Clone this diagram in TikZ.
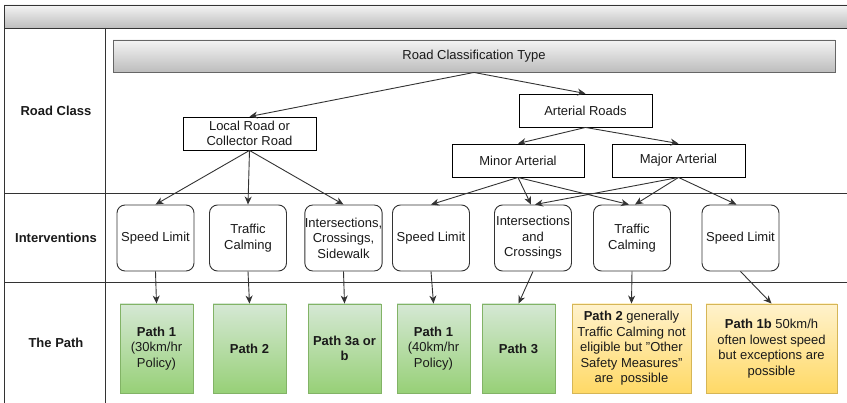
\documentclass[tikz,border=0pt]{standalone}
\usepackage{fontspec}
\setmainfont{Liberation Sans}
\usetikzlibrary{arrows.meta}
\definecolor{lineC}{HTML}{333333}
\definecolor{greenT}{HTML}{D5E8D4}
\definecolor{greenB}{HTML}{97D077}
\definecolor{greenD}{HTML}{82B366}
\definecolor{yelT}{HTML}{FFF2CC}
\definecolor{yelB}{HTML}{FFD966}
\definecolor{yelD}{HTML}{D6B656}
\definecolor{grayT}{HTML}{F4F4F4}
\definecolor{grayB}{HTML}{BDBDBD}
\definecolor{txt}{HTML}{1A1A1A}
\tikzset{
  every node/.style={font=\fontsize{13}{15.5}\selectfont, text=txt, align=center, inner sep=0pt},
  classbox/.style={draw=black, fill=white, line width=0.9pt, minimum height=33pt},
  intbox/.style={draw=lineC, fill=white, rounded corners=8pt, line width=0.9pt, minimum width=77pt, minimum height=66pt},
  greenbox/.style={draw=greenD, top color=greenT, bottom color=greenB, line width=0.9pt, minimum height=89pt},
  yelbox/.style={draw=yelD, top color=yelT, bottom color=yelB, line width=0.9pt, minimum height=89pt},
  arr/.style={draw=lineC, line width=0.9pt, -{Stealth[length=8pt,width=7pt,inset=2.5pt]}},
  frame/.style={draw=lineC, line width=0.9pt},
  rowlabel/.style={font=\fontsize{13}{15.5}\selectfont\bfseries}
}
\begin{document}
\begin{tikzpicture}[x=1pt,y=-1pt]
\useasboundingbox (0,0) rectangle (847,403);
\clip (0,0) rectangle (847,403);
% frame
\path[frame, top color=grayT, bottom color=grayB] (4,5) rectangle (860,28);
\draw[frame] (4,28) -- (4,410);
\draw[frame] (105,28) -- (105,410);
\draw[frame] (4,193) -- (860,193);
\draw[frame] (4,282) -- (860,282);
% row labels
\node[rowlabel] (lrc) at (56,111) {Road Class};
\node[rowlabel] (lint) at (56,238) {Interventions};
\node[rowlabel] (lpath) at (56,343) {The Path};
% classification
\node[draw=gray!80!black, line width=0.9pt, top color=grayT, bottom color=grayB, minimum width=722pt, minimum height=32pt] (rct) at (474,56) {Road Classification Type};
\node[classbox, minimum width=133pt] (art) at (585.5,110.5) {Arterial Roads};
\node[classbox, minimum width=133pt] (loc) at (249.5,133.5) {Local Road or\\Collector Road};
\node[classbox, minimum width=132pt] (minor) at (518,160.5) {Minor Arterial};
\node[classbox, minimum width=133pt] (major) at (678.5,160.5) {Major Arterial};
% interventions
\node[intbox] (sl1) at (155.5,238) {Speed Limit};
\node[intbox] (tc1) at (248,238) {Traffic\\Calming};
\node[intbox] (ics) at (343.5,238) {Intersections,\\Crossings,\\Sidewalk};
\node[intbox] (sl2) at (431,238) {Speed Limit};
\node[intbox] (iac) at (533,238) {Intersections\\and\\Crossings};
\node[intbox] (tc2) at (632,238) {Traffic\\Calming};
\node[intbox] (sl3) at (740.5,238) {Speed Limit};
% paths
\node[greenbox, minimum width=73pt] (p1) at (156.5,348.5) {\textbf{Path 1}\\(30km/hr\\Policy)};
\node[greenbox, minimum width=73pt] (p2) at (249.5,348.5) {\textbf{Path 2}};
\node[greenbox, minimum width=73pt] (p3a) at (344.5,348.5) {\textbf{Path 3a or}\\\textbf{b}};
\node[greenbox, minimum width=73pt] (p140) at (433.5,348.5) {\textbf{Path 1}\\(40km/hr\\Policy)};
\node[greenbox, minimum width=73pt] (p3) at (518.5,348.5) {\textbf{Path 3}};
\node[yelbox, minimum width=119pt] (p2y) at (631.5,348.5) {\textbf{Path 2} generally\\Traffic Calming not\\eligible but "Other\\Safety Measures"\\are\ \ possible};
\node[yelbox, minimum width=131pt] (p1b) at (771.5,348.5) {\textbf{Path 1b} 50km/h\\often lowest speed\\but exceptions are\\possible};
% connectors
\draw[arr] (rct.south) -- (loc.north);
\draw[arr] (rct.south) -- (art.north);
\draw[arr] (art.south) -- (minor.north);
\draw[arr] (art.south) -- (major.north);
\draw[arr] (loc.south) -- (sl1.north);
\draw[arr] (loc.south) -- (tc1.north);
\draw[arr] (loc.south) -- (ics.north);
\draw[arr] (minor.south) -- (sl2.north);
\draw[arr] (minor.south) -- ([xshift=-2pt]iac.north);
\draw[arr] (minor.south) -- ([xshift=-3pt]tc2.north);
\draw[arr] (major.south) -- ([xshift=2pt]iac.north);
\draw[arr] (major.south) -- ([xshift=3pt]tc2.north);
\draw[arr] (major.south) -- ([xshift=-4pt]sl3.north);
\draw[arr] (sl1.south) -- (p1.north);
\draw[arr] (tc1.south) -- (p2.north);
\draw[arr] (ics.south) -- (p3a.north);
\draw[arr] (sl2.south) -- (p140.north);
\draw[arr] (iac.south) -- (p3.north);
\draw[arr] (tc2.south) -- (p2y.north);
\draw[arr] (sl3.south) -- (p1b.north);
\end{tikzpicture}
\end{document}
